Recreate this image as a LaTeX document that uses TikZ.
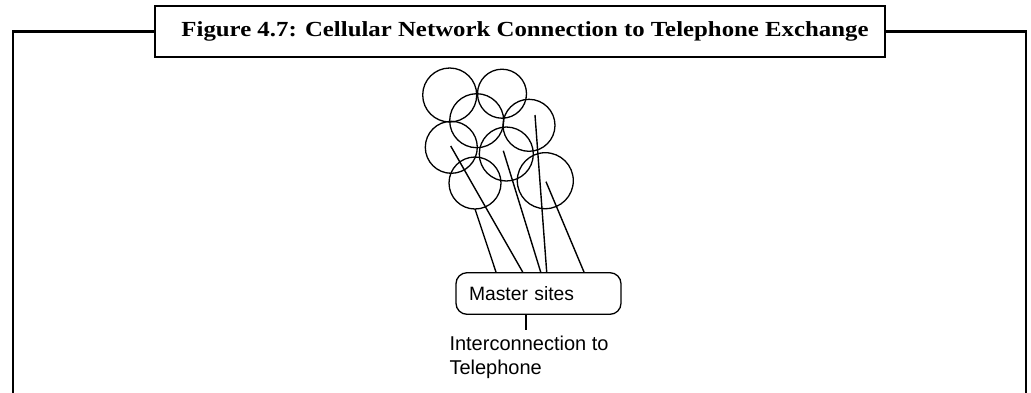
\documentclass[tikz,border=0pt]{standalone}
\usepackage{fontspec}
\usepackage{graphicx}
\setmainfont{Liberation Serif}
\newfontfamily\labelfont{Liberation Sans}
\begin{document}
\begin{tikzpicture}[x=1pt,y=-1pt,
  frameline/.style={line width=2.6pt,line join=miter},
  titlebox/.style={draw,line width=2.6pt,rectangle,inner sep=0pt,minimum width=730pt,minimum height=51pt},
  cell/.style={draw,circle,line width=1.3pt,inner sep=0pt},
  feed/.style={line width=1.4pt},
  sitebox/.style={draw,rectangle,rounded corners=11pt,line width=1.3pt,minimum width=165pt,minimum height=41.6pt,inner xsep=13pt,inner ysep=0pt,text width=139pt,align=left,font=\labelfont\fontsize{19.3}{22}\selectfont},
  caption/.style={font=\labelfont\fontsize{20}{24}\selectfont,align=left,inner sep=0pt}]
\useasboundingbox (0,0) rectangle (1031,392);

% caption box and surrounding frame
\node[titlebox] (title) at (520,31.5) {};
\node[anchor=base,inner sep=0pt] (ttext) at (525,36.5)
  {\resizebox{687pt}{\height}{\fontsize{21.5}{24}\selectfont\bfseries Figure 4.7: Cellular Network Connection to Telephone Exchange}};
\coordinate (ftl) at (13,31.5);
\coordinate (fbl) at (13,393);
\coordinate (ftr) at (1026,31.5);
\coordinate (fbr) at (1026,393);
\draw[frameline] (title.west) -- (ftl) -- (fbl);
\draw[frameline] (title.east) -- (ftr) -- (fbr);

% cells
\node[cell,minimum size=54pt] (ca) at (449.7,95) {};
\node[cell,minimum size=49pt] (cb) at (502,93.7) {};
\node[cell,minimum size=54pt] (cc) at (476.7,120.7) {};
\node[cell,minimum size=52pt] (cd) at (529,125.3) {};
\node[cell,minimum size=52pt] (ce) at (451.3,147.3) {};
\node[cell,minimum size=54pt] (cf) at (506.3,154) {};
\node[cell,minimum size=52pt] (cg) at (475,183) {};
\node[cell,minimum size=56pt] (ch) at (545.3,180.7) {};

% master sites
\node[sitebox] (ms) at (538.5,293.5) {Master sites};

% feeds from the cells to the master sites
\coordinate (s1) at (450.7,146);
\coordinate (s2) at (475,209);
\coordinate (s3) at (503.3,150.7);
\coordinate (s4) at (535,115);
\coordinate (s5) at (546,181.7);
\draw[feed] (s1) -- (522.7,0 |- ms.north);
\draw[feed] (s2) -- (496,0 |- ms.north);
\draw[feed] (s3) -- (540.7,0 |- ms.north);
\draw[feed] (s4) -- (546.7,0 |- ms.north);
\draw[feed] (s5) -- (584,0 |- ms.north);

% interconnection
\coordinate (tap) at (526,330);
\draw[feed] (tap |- ms.south) -- (tap);
\node[caption,anchor=base west] (tel) at (449.3,374) {Interconnection to\\Telephone};
\end{tikzpicture}
\end{document}
